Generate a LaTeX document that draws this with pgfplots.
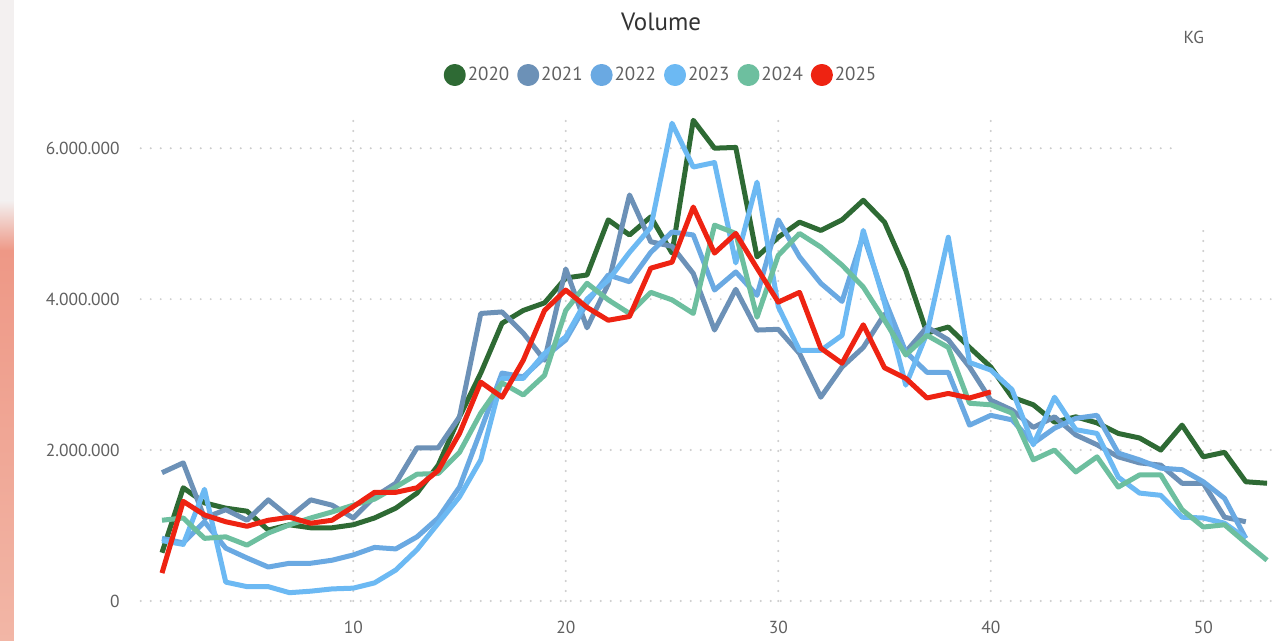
\documentclass[border=0pt]{standalone}
\usepackage{pgfplots}
\pgfplotsset{compat=1.18}
\usepackage{fontspec}
\setmainfont{PT Sans}

\definecolor{c2020}{HTML}{2E6A34}
\definecolor{c2021}{HTML}{6C91B7}
\definecolor{c2022}{HTML}{6AA9E2}
\definecolor{c2023}{HTML}{6CB9F3}
\definecolor{c2024}{HTML}{6DBF9F}
\definecolor{c2025}{HTML}{EE2312}
\definecolor{txtgray}{HTML}{606060}
\definecolor{gridgray}{HTML}{CCCCCC}
\definecolor{stripA}{HTML}{F3F0F0}
\definecolor{stripB}{HTML}{EE9886}
\definecolor{stripC}{HTML}{F2B6A6}

% weekly volume, in millions of kg
\begin{document}
\begin{tikzpicture}
\path[use as bounding box] (-70.375pt,-20pt) rectangle (570.125pt,300.5pt);
\fill[white] (-70.375pt,-20pt) rectangle (570.125pt,300.5pt);
\fill[stripA] (-70.375pt,200pt) rectangle (-63.4pt,300.5pt);
\shade[top color=stripA, bottom color=stripB] (-70.375pt,175pt) rectangle (-63.4pt,200.2pt);
\shade[top color=stripB, bottom color=stripC] (-70.375pt,-20pt) rectangle (-63.4pt,175.2pt);
\begin{axis}[
  scale only axis,
  clip mode=individual,
  width=567.4pt, height=241.5pt,
  xmin=0, xmax=53.4, ymin=0, ymax=6.4,
  axis line style={draw=none},
  major tick length=0pt,
  xtick={10,20,30,40,50},
  ytick={0,2,4,6},
  yticklabels={0,2.000.000,4.000.000,6.000.000},
  /pgf/number format/assume math mode=true,
  ticklabel style={font=\fontsize{8.7}{10}\selectfont, text=txtgray},
  yticklabel style={xshift=-7pt},
  xticklabel style={yshift=-6.5pt},
  grid=major,
  major grid style={gridgray, line width=1.1pt, line cap=round, dash pattern=on 0pt off 5pt},
  every axis plot/.append style={line width=2.5pt, line join=round, no markers},
  legend columns=-1,
  legend style={at={(rel axis cs:0.4585,1.089)}, anchor=center, draw=none, fill=none,
    font=\fontsize{9.5}{11}\selectfont, text=txtgray,
    nodes={inner xsep=1pt},
    /tikz/every even column/.append style={column sep=3pt}},
  legend image code/.code={\fill (4.25pt,0pt) circle (4.25pt);},
]
\fill[white] (axis cs:48.7,4.92) rectangle (axis cs:53.4,6.4);

\addplot[color=c2020] coordinates {
(1,0.64) (2,1.50) (3,1.30) (4,1.23) (5,1.19) (6,0.94) (7,1.01) (8,0.97) (9,0.97) (10,1.01)
(11,1.10) (12,1.23) (13,1.43) (14,1.80) (15,2.44) (16,3.02) (17,3.68) (18,3.85) (19,3.95) (20,4.28)
(21,4.32) (22,5.05) (23,4.85) (24,5.09) (25,4.61) (26,6.37) (27,6.00) (28,6.01) (29,4.56) (30,4.82)
(31,5.02) (32,4.91) (33,5.05) (34,5.31) (35,5.02) (36,4.38) (37,3.55) (38,3.63) (39,3.36) (40,3.10)
(41,2.70) (42,2.60) (43,2.37) (44,2.44) (45,2.36) (46,2.22) (47,2.16) (48,2.00) (49,2.33) (50,1.91)
(51,1.97) (52,1.58) (53,1.56)};
\addlegendentry{2020}

\addplot[color=c2021] coordinates {
(1,1.70) (2,1.83) (3,1.10) (4,1.21) (5,1.07) (6,1.34) (7,1.11) (8,1.34) (9,1.27) (10,1.10)
(11,1.38) (12,1.56) (13,2.03) (14,2.03) (15,2.44) (16,3.81) (17,3.83) (18,3.55) (19,3.19) (20,4.40)
(21,3.62) (22,4.20) (23,5.38) (24,4.76) (25,4.70) (26,4.34) (27,3.59) (28,4.13) (29,3.59) (30,3.60)
(31,3.28) (32,2.70) (33,3.10) (34,3.36) (35,3.80) (36,3.30) (37,3.63) (38,3.46) (39,3.10) (40,2.66)
(41,2.53) (42,2.30) (43,2.44) (44,2.20) (45,2.07) (46,1.91) (47,1.83) (48,1.80) (49,1.56) (50,1.56)
(51,1.11) (52,1.05)};
\addlegendentry{2021}

\addplot[color=c2022] coordinates {
(1,0.83) (2,0.77) (3,1.05) (4,0.70) (5,0.57) (6,0.45) (7,0.50) (8,0.50) (9,0.54) (10,0.61)
(11,0.71) (12,0.69) (13,0.85) (14,1.10) (15,1.51) (16,2.26) (17,3.02) (18,2.97) (19,3.23) (20,3.46)
(21,3.95) (22,4.32) (23,4.23) (24,4.62) (25,4.89) (26,4.85) (27,4.12) (28,4.36) (29,4.05) (30,5.05)
(31,4.56) (32,4.21) (33,3.97) (34,4.85) (35,4.00) (36,3.30) (37,3.03) (38,3.03) (39,2.33) (40,2.46)
(41,2.40) (42,2.09) (43,2.29) (44,2.42) (45,2.46) (46,1.96) (47,1.87) (48,1.76) (49,1.74) (50,1.58)
(51,1.36) (52,0.83)};
\addlegendentry{2022}

\addplot[color=c2023] coordinates {
(1,0.80) (2,0.75) (3,1.48) (4,0.25) (5,0.19) (6,0.19) (7,0.11) (8,0.13) (9,0.16) (10,0.17)
(11,0.24) (12,0.41) (13,0.68) (14,1.03) (15,1.38) (16,1.87) (17,2.95) (18,2.95) (19,3.28) (20,3.50)
(21,4.00) (22,4.25) (23,4.62) (24,4.95) (25,6.33) (26,5.75) (27,5.81) (28,4.48) (29,5.55) (30,3.90)
(31,3.32) (32,3.32) (33,3.52) (34,4.91) (35,3.95) (36,2.86) (37,3.55) (38,4.82) (39,3.16) (40,3.06)
(41,2.80) (42,2.07) (43,2.70) (44,2.27) (45,2.22) (46,1.64) (47,1.43) (48,1.40) (49,1.11) (50,1.10)
(51,1.03) (52,0.83)};
\addlegendentry{2023}

\addplot[color=c2024] coordinates {
(1,1.07) (2,1.10) (3,0.83) (4,0.85) (5,0.74) (6,0.90) (7,1.01) (8,1.10) (9,1.18) (10,1.27)
(11,1.35) (12,1.51) (13,1.68) (14,1.69) (15,1.97) (16,2.49) (17,2.89) (18,2.73) (19,2.99) (20,3.85)
(21,4.21) (22,3.99) (23,3.81) (24,4.09) (25,3.99) (26,3.81) (27,4.98) (28,4.87) (29,3.76) (30,4.58)
(31,4.87) (32,4.69) (33,4.45) (34,4.16) (35,3.72) (36,3.26) (37,3.52) (38,3.36) (39,2.62) (40,2.60)
(41,2.49) (42,1.87) (43,2.00) (44,1.71) (45,1.91) (46,1.51) (47,1.67) (48,1.67) (49,1.21) (50,0.98)
(51,1.01) (52,0.77) (53,0.54)};
\addlegendentry{2024}

\addplot[color=c2025] coordinates {
(1,0.37) (2,1.32) (3,1.14) (4,1.05) (5,0.99) (6,1.07) (7,1.11) (8,1.03) (9,1.07) (10,1.25)
(11,1.44) (12,1.44) (13,1.50) (14,1.73) (15,2.22) (16,2.90) (17,2.70) (18,3.19) (19,3.85) (20,4.12)
(21,3.89) (22,3.72) (23,3.77) (24,4.41) (25,4.49) (26,5.22) (27,4.61) (28,4.87) (29,4.41) (30,3.96)
(31,4.09) (32,3.35) (33,3.15) (34,3.66) (35,3.09) (36,2.95) (37,2.69) (38,2.75) (39,2.69) (40,2.77)};
\addlegendentry{2025}

\node[font=\fontsize{12.5}{14}\selectfont, text=black!80] at (rel axis cs:0.4585,1.199) {Volume};
\node[font=\fontsize{8.7}{10}\selectfont, text=txtgray] at (rel axis cs:0.928,1.166) {KG};
\end{axis}
\end{tikzpicture}
\end{document}
